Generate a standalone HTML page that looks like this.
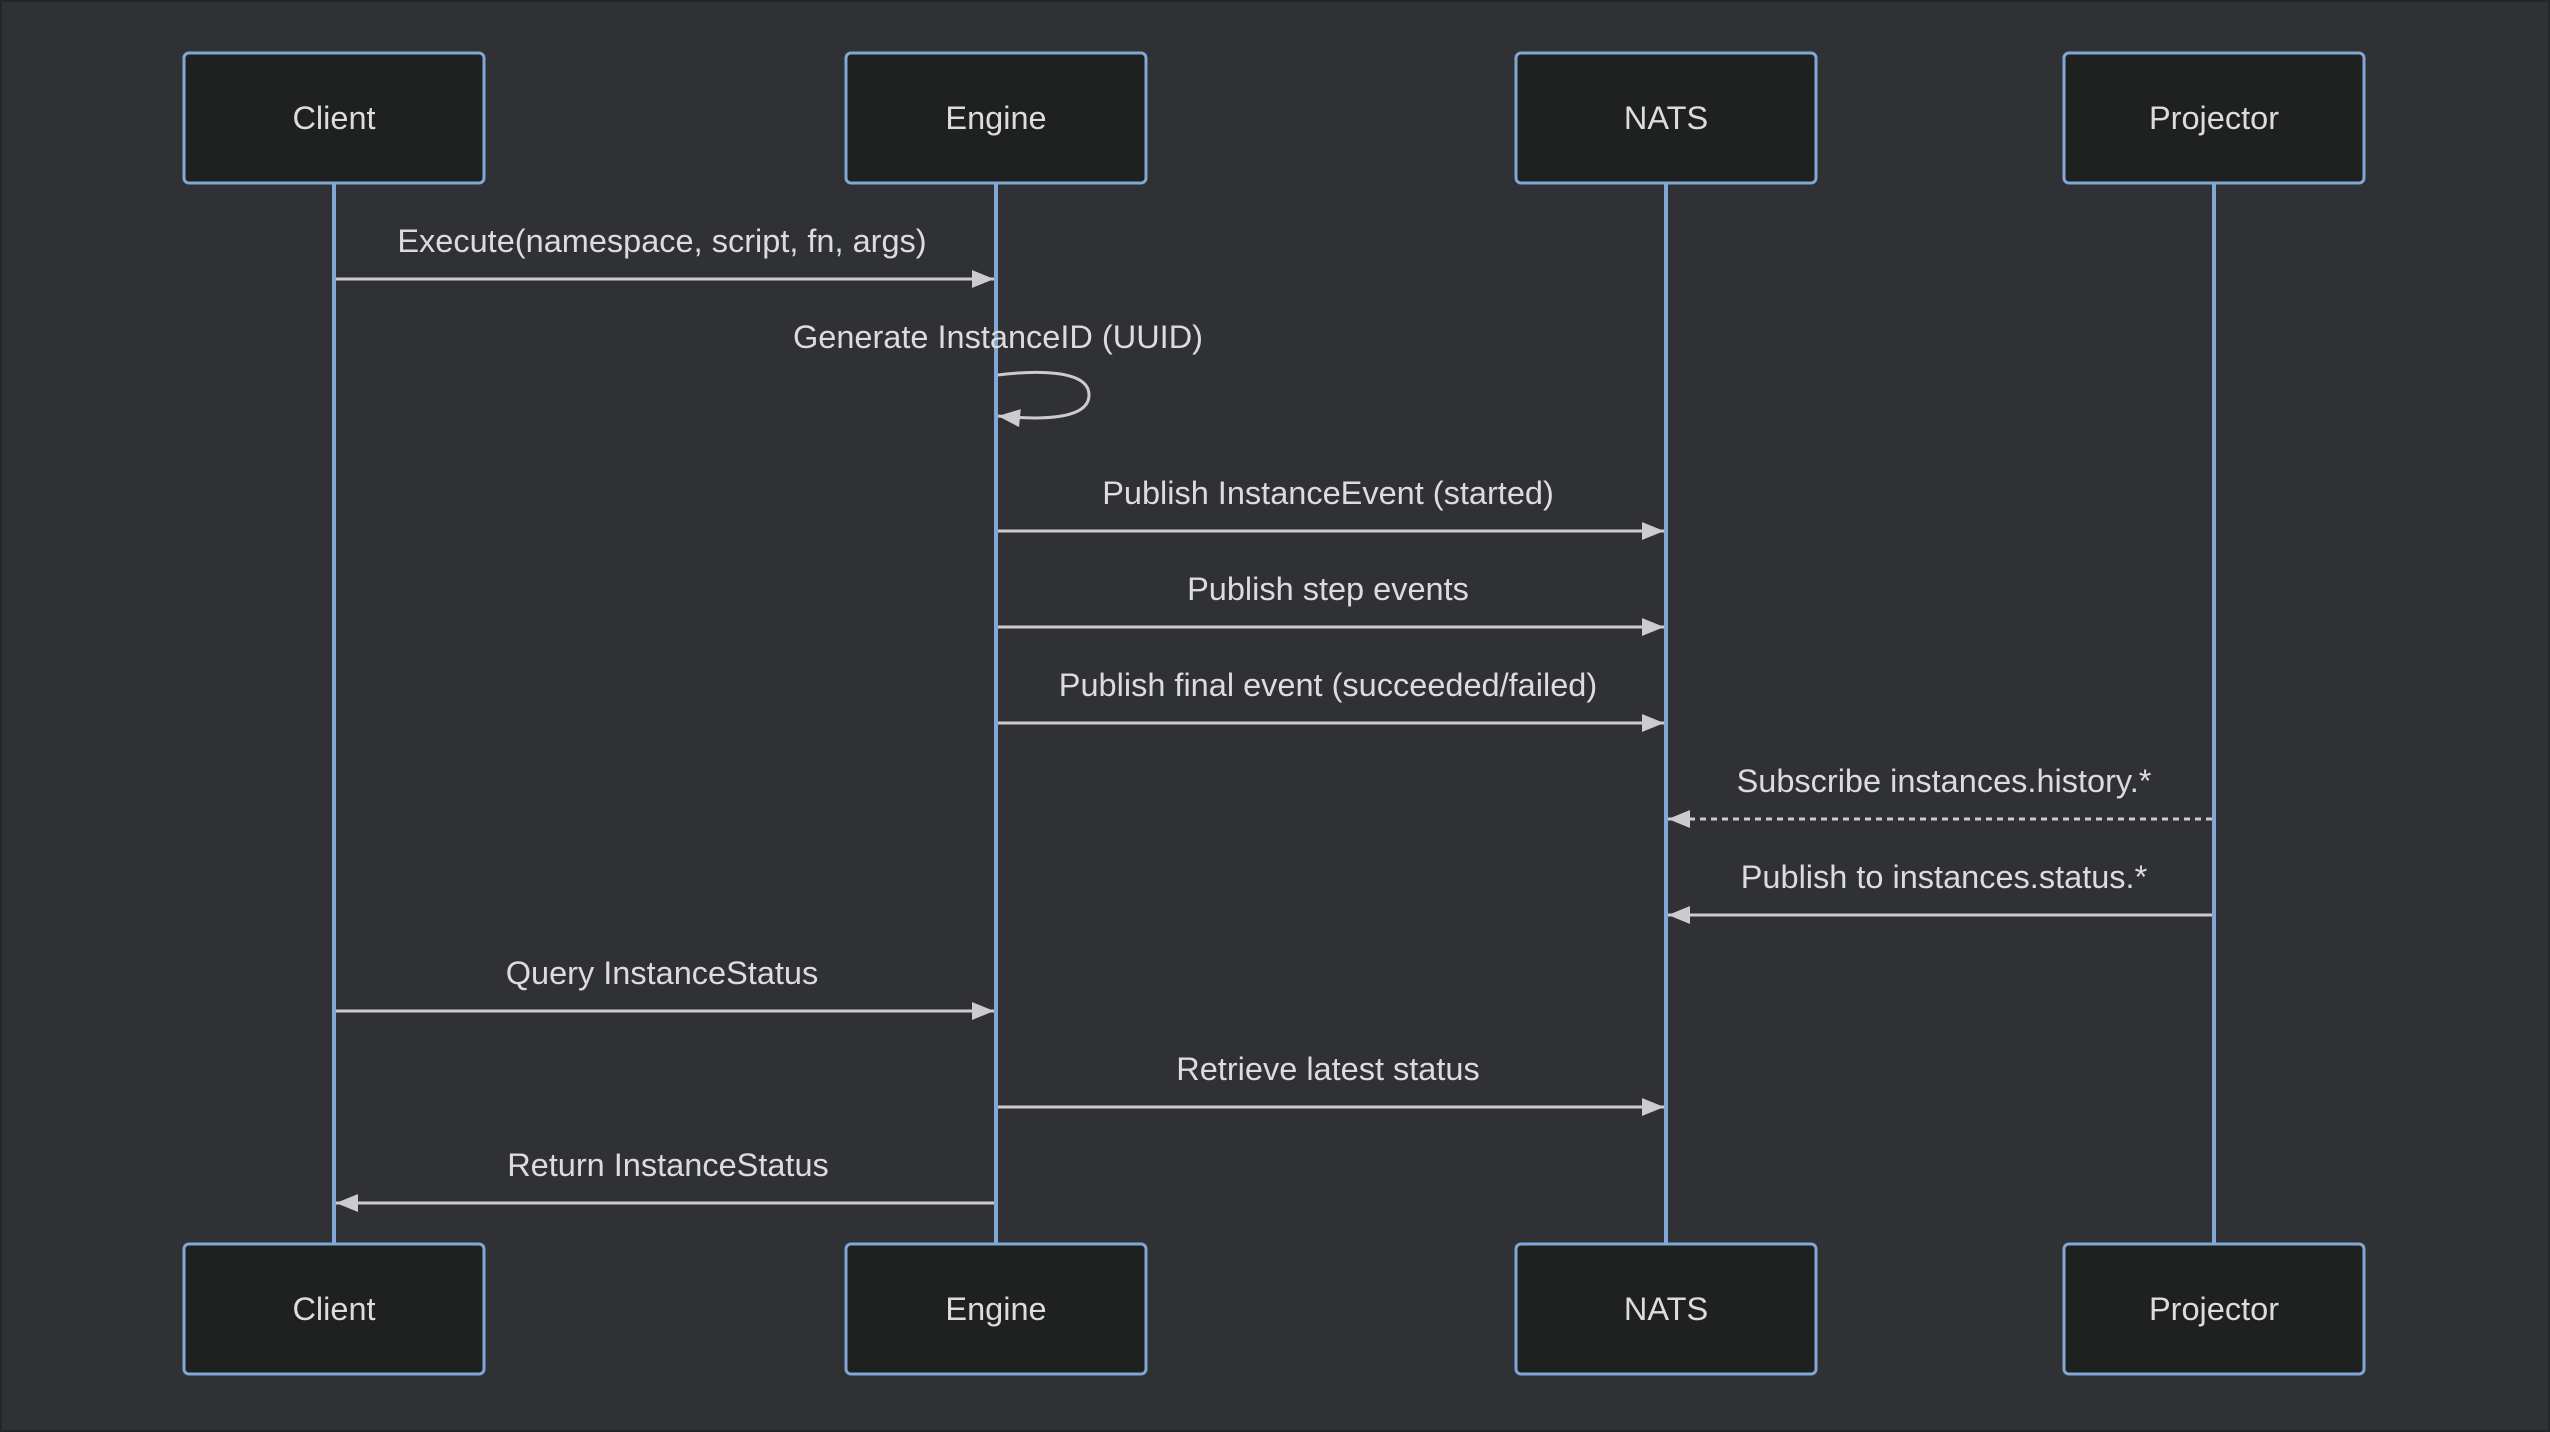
<!DOCTYPE html>
<html><head><meta charset="utf-8"><style>
html,body{margin:0;padding:0;background:#303135;}
svg{display:block}
text{font-family:"Liberation Sans",sans-serif;fill:#dcdcdc;font-size:32.5px;text-anchor:middle}
.box{fill:#1f2020;stroke:#81a7d6;stroke-width:3}
.ll{stroke:#81a7d6;stroke-width:4}
.m{stroke:#cccccc;stroke-width:3;fill:none}
</style></head><body>
<svg width="2550" height="1432" viewBox="0 0 2550 1432" xmlns="http://www.w3.org/2000/svg">
<defs>
<marker id="ar" viewBox="0 0 22 18" markerWidth="24" markerHeight="18" refX="22" refY="9" orient="auto" markerUnits="userSpaceOnUse"><path d="M0,0 L22,9 L0,18 Z" fill="#cccccc"/></marker></defs>
<rect x="0" y="0" width="2550" height="1432" fill="#303135" stroke="#252628" stroke-width="4"/>
<g class="ll"><line x1="334" y1="183" x2="334" y2="1244"/><line x1="996" y1="183" x2="996" y2="1244"/><line x1="1666" y1="183" x2="1666" y2="1244"/><line x1="2214" y1="183" x2="2214" y2="1244"/></g>
<g>
<rect class="box" x="184" y="53" width="300" height="130" rx="5"/><text x="334" y="129">Client</text>
<rect class="box" x="846" y="53" width="300" height="130" rx="5"/><text x="996" y="129">Engine</text>
<rect class="box" x="1516" y="53" width="300" height="130" rx="5"/><text x="1666" y="129">NATS</text>
<rect class="box" x="2064" y="53" width="300" height="130" rx="5"/><text x="2214" y="129">Projector</text>
<rect class="box" x="184" y="1244" width="300" height="130" rx="5"/><text x="334" y="1320">Client</text>
<rect class="box" x="846" y="1244" width="300" height="130" rx="5"/><text x="996" y="1320">Engine</text>
<rect class="box" x="1516" y="1244" width="300" height="130" rx="5"/><text x="1666" y="1320">NATS</text>
<rect class="box" x="2064" y="1244" width="300" height="130" rx="5"/><text x="2214" y="1320">Projector</text>
</g>
<text x="662" y="252">Execute(namespace, script, fn, args)</text>
<line class="m" x1="336" y1="279" x2="994" y2="279" marker-end="url(#ar)"/>
<text x="998" y="348">Generate InstanceID (UUID)</text>
<path class="m" d="M998,375 C1030,371 1089,368 1089,395 C1089,420 1040,420 998,416" marker-end="url(#ar)"/>
<text x="1328" y="504">Publish InstanceEvent (started)</text>
<line class="m" x1="998" y1="531" x2="1664" y2="531" marker-end="url(#ar)"/>
<text x="1328" y="600">Publish step events</text>
<line class="m" x1="998" y1="627" x2="1664" y2="627" marker-end="url(#ar)"/>
<text x="1328" y="696">Publish final event (succeeded/failed)</text>
<line class="m" x1="998" y1="723" x2="1664" y2="723" marker-end="url(#ar)"/>
<text x="1944" y="792">Subscribe instances.history.*</text>
<line class="m" x1="2212" y1="819" x2="1668" y2="819" stroke-dasharray="6,5" marker-end="url(#ar)"/>
<text x="1944" y="888">Publish to instances.status.*</text>
<line class="m" x1="2212" y1="915" x2="1668" y2="915" marker-end="url(#ar)"/>
<text x="662" y="984">Query InstanceStatus</text>
<line class="m" x1="336" y1="1011" x2="994" y2="1011" marker-end="url(#ar)"/>
<text x="1328" y="1080">Retrieve latest status</text>
<line class="m" x1="998" y1="1107" x2="1664" y2="1107" marker-end="url(#ar)"/>
<text x="668" y="1176">Return InstanceStatus</text>
<line class="m" x1="994" y1="1203" x2="336" y2="1203" marker-end="url(#ar)"/>
</svg>
</body></html>
